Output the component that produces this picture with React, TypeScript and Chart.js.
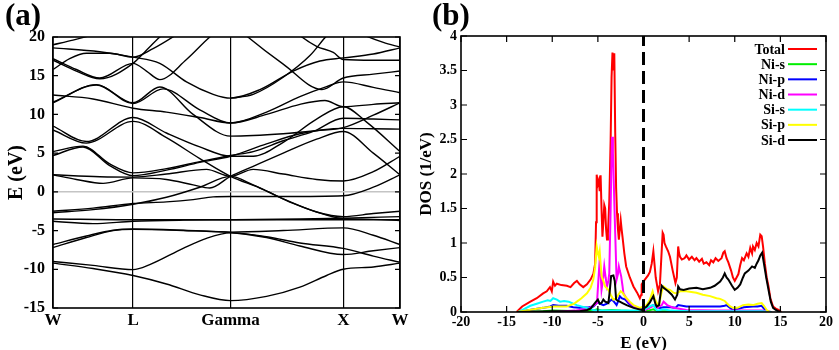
import React, { useEffect, useRef } from "react";
import { Chart, registerables } from "chart.js";

Chart.register(...registerables);

const SERIF = "'Liberation Serif', 'DejaVu Serif', serif";

// ---------- Panel (a): band structure ----------
const kTicks = [0, 240, 532, 870, 1040];
const kLabels = ["W", "L", "Gamma", "X", "W"];

const band01 = [[0,-9.2],[120,-9.9],[240,-10.8],[340,-11.9],[440,-13.3],[532,-14.05],[640,-13.5],[740,-12.3],[820,-10.8],[870,-10.0],[960,-9.7],[1040,-9.2]];
const band02 = [[0,-9.0],[120,-9.5],[240,-10.05],[290,-9.4],[390,-7.3],[460,-6.0],[532,-5.3],[640,-5.8],[740,-6.6],[870,-7.3],[960,-8.3],[1040,-9.1]];
const band03 = [[0,-7.2],[100,-5.9],[180,-5.0],[240,-4.85],[390,-5.0],[532,-5.25],[640,-5.9],[740,-7.0],[870,-8.1],[960,-7.6],[1040,-7.2]];
const band04 = [[0,-6.8],[100,-5.7],[180,-4.95],[240,-4.8],[390,-4.95],[532,-5.2],[690,-5.0],[870,-4.65],[960,-5.6],[1040,-6.8]];
const band05 = [[0,-3.5],[240,-3.6],[532,-3.6],[870,-3.6],[1040,-3.6]];
const band06 = [[0,-3.8],[120,-4.1],[240,-3.8],[390,-3.65],[532,-3.6],[740,-3.5],[870,-3.4],[1040,-3.2]];
const band07 = [[0,-2.5],[120,-2.1],[240,-1.5],[340,-1.3],[420,-1.0],[480,-0.65],[532,-0.6],[690,-0.6],[870,-0.5],[960,0.6],[1040,2.2]];
const band08 = [[0,-2.7],[120,-2.3],[240,-1.6],[340,-0.7],[440,0.6],[532,2.0],[600,0.9],[690,-0.9],[790,-2.6],[870,-3.2],[960,-2.8],[1040,-2.5]];
const band09 = [[0,8.0],[100,6.3],[240,9.1],[340,7.0],[440,4.3],[532,2.0],[620,0.5],[720,-1.5],[820,-3.0],[870,-3.45],[960,-3.55],[1040,-3.7]];
const band10 = [[0,2.2],[70,1.6],[150,1.1],[240,1.8],[340,1.6],[420,0.9],[470,0.5],[532,2.0],[600,3.3],[690,5.0],[790,6.8],[870,7.8],[960,5.0],[1040,2.2]];
const band11 = [[0,2.2],[140,1.95],[240,1.9],[340,2.3],[460,2.9],[532,2.0],[600,2.9],[690,2.3],[790,1.6],[870,1.4],[960,2.6],[1040,4.6]];
const band12 = [[0,5.2],[90,5.9],[170,3.6],[240,2.45],[340,3.0],[440,3.9],[532,4.7],[600,5.2],[690,6.6],[780,7.8],[870,9.5],[960,9.4],[1040,9.3]];
const band13 = [[0,4.7],[90,5.8],[170,3.4],[240,2.1],[340,2.8],[440,3.8],[532,4.6],[640,6.2],[740,7.5],[870,8.2],[960,8.15],[1040,8.1]];
const band14 = [[0,8.5],[100,6.5],[240,9.6],[340,7.6],[440,5.8],[532,4.6],[600,4.6],[690,6.4],[790,9.4],[870,11.0],[940,9.0],[1040,5.2]];
const band15 = [[0,11.5],[130,13.85],[240,11.5],[320,13.55],[420,10.0],[532,7.2],[690,7.5],[790,7.9],[870,8.3],[960,9.9],[1040,11.5]];
const band16 = [[0,11.6],[130,13.8],[240,11.4],[330,13.3],[440,10.6],[532,8.9],[640,10.0],[740,11.3],[815,11.8],[870,11.0],[960,11.3],[1040,11.5]];
const band17 = [[0,12.5],[120,12.0],[240,10.8],[340,10.3],[440,9.6],[532,8.9],[640,10.3],[740,12.3],[820,13.6],[870,14.2],[960,13.5],[1040,12.8]];
const band18 = [[0,18.6],[140,18.1],[240,17.4],[320,16.6],[400,14.2],[480,12.6],[532,12.1],[620,13.2],[720,15.6],[800,16.9],[870,17.3],[960,17.8],[1040,18.6]];
const band19 = [[0,17.2],[70,15.8],[140,14.7],[240,16.6],[280,15.6],[320,14.5],[400,17.1],[470,20.0],[532,22.0],[584,20.0],[690,16.5],[806,13.2],[870,14.7],[960,15.2],[1040,15.6]];
const band20 = [[0,15.8],[50,17.2],[100,17.9],[170,17.9],[240,17.4],[300,18.5],[370,20.3],[400,21.2]];
const band21 = [[0,17.0],[70,15.6],[140,14.6],[240,16.6],[280,18.3],[320,20.0],[360,21.5]];
const band22 = [[0,19.0],[60,19.6],[120,20.3],[170,21.0]];
const band23 = [[532,12.1],[600,12.6],[690,14.8],[770,17.6],[815,19.9],[850,21.5]];
const band24 = [[720,21.0],[740,20.2],[790,18.8],[840,18.0],[870,17.1],[960,17.0],[1040,17.0]];
const band25 = [[880,21.5],[930,20.3],[990,19.3],[1040,18.7]];

const bands = [band01, band02, band03, band04, band05, band06, band07, band08, band09, band10, band11, band12, band13,
  band14, band15, band16, band17, band18, band19, band20, band21, band22, band23, band24, band25];

// ---------- Panel (b): density of states ----------
const dosLabels = ["Total", "Ni-s", "Ni-p", "Ni-d", "Si-s", "Si-p", "Si-d"];
const dosColors = ["#ff0000", "#00ee00", "#0000ff", "#ff00ff", "#00ffff", "#ffff00", "#000000"];

const dosTotal = [[-13.9,0],[-13.3,0.08],[-12.4,0.15],[-11.7,0.2],[-11.0,0.27],[-10.6,0.3],[-10.25,0.36],[-10.05,0.3],[-9.9,0.44],[-9.7,0.38],[-9.5,0.41],[-9.0,0.39],[-8.4,0.38],[-8.0,0.36],[-7.6,0.42],[-7.3,0.45],[-7.0,0.4],[-6.6,0.36],[-6.2,0.4],[-5.8,0.47],[-5.5,0.55],[-5.3,0.7],[-5.2,1.3],[-5.13,1.99],[-5.0,1.85],[-4.9,1.9],[-4.8,1.75],[-4.7,1.98],[-4.6,1.5],[-4.5,1.09],[-4.4,1.3],[-4.3,1.55],[-4.2,1.5],[-4.1,1.2],[-4.0,1.05],[-3.9,1.14],[-3.75,1.6],[-3.6,2.5],[-3.5,3.4],[-3.4,3.76],[-3.3,3.5],[-3.2,3.75],[-3.1,2.6],[-3.0,1.8],[-2.9,1.43],[-2.8,1.2],[-2.7,1.05],[-2.6,1.2],[-2.5,1.33],[-2.4,1.2],[-2.3,1.09],[-2.1,0.85],[-1.9,0.66],[-1.5,0.5],[-1.1,0.37],[-0.7,0.28],[-0.4,0.2],[-0.25,0.25],[-0.2,0.4],[0.15,0.47],[0.5,0.53],[0.7,0.58],[0.9,0.7],[1.08,0.88],[1.2,0.7],[1.34,0.5],[1.6,0.3],[1.8,0.4],[2.0,0.9],[2.1,1.15],[2.2,1.12],[2.3,1.0],[2.45,0.95],[2.7,0.88],[2.9,0.8],[3.2,0.6],[3.5,0.42],[3.65,0.5],[3.8,0.95],[3.9,0.85],[4.0,0.8],[4.2,0.76],[4.5,0.78],[4.7,0.82],[5.0,0.76],[5.3,0.8],[5.6,0.75],[5.8,0.78],[6.1,0.73],[6.4,0.77],[6.6,0.7],[6.9,0.72],[7.2,0.68],[7.4,0.75],[7.65,0.72],[7.9,0.78],[8.2,0.74],[8.55,0.78],[8.75,0.86],[8.9,0.88],[9.1,0.78],[9.3,0.72],[9.6,0.6],[9.8,0.5],[10.0,0.45],[10.2,0.5],[10.4,0.55],[10.6,0.68],[10.8,0.78],[11.0,0.75],[11.3,0.85],[11.5,0.8],[11.7,0.93],[11.9,0.85],[12.0,0.95],[12.2,0.9],[12.4,1.0],[12.6,0.95],[12.8,1.12],[12.95,1.1],[13.1,0.95],[13.3,0.7],[13.5,0.5],[13.7,0.37],[13.9,0.2],[14.2,0.08],[14.5,0.05],[14.8,0.03],[15.1,0]];
const dosNiS = [[-13.8,0],[-11,0.01],[-9.9,0.02],[-7,0.01],[-5.5,0.02],[-5.1,0.04],[-4.5,0.02],[-3.5,0.03],[-2.5,0.02],[-1,0.01],[0.5,0.02],[1.08,0.04],[1.6,0.01],[5,0.01],[13,0.01],[14,0]];
const dosNiP = [[-13.8,0],[-12.5,0.03],[-11,0.06],[-10.2,0.08],[-9.9,0.1],[-9.3,0.09],[-8.4,0.09],[-7.7,0.07],[-7,0.06],[-6,0.07],[-5.5,0.08],[-5.2,0.12],[-5,0.15],[-4.8,0.12],[-4.4,0.1],[-4.0,0.12],[-3.5,0.18],[-3.3,0.16],[-2.95,0.1],[-2.8,0.15],[-2.6,0.23],[-2.4,0.2],[-2.0,0.18],[-1.6,0.12],[-1.1,0.08],[-0.5,0.05],[0,0.03],[0.5,0.06],[1.08,0.1],[1.4,0.07],[1.8,0.06],[2.2,0.07],[3.0,0.07],[3.5,0.06],[3.8,0.1],[4.7,0.08],[6,0.08],[7.3,0.08],[8.4,0.08],[8.9,0.09],[9.1,0.1],[9.5,0.06],[9.8,0.03],[10.5,0.05],[11,0.07],[12,0.08],[12.5,0.08],[12.95,0.09],[13.2,0.05],[13.5,0.01],[13.8,0]];
const dosNiD = [[-10,0],[-7.5,0.02],[-6.5,0.04],[-5.9,0.06],[-5.4,0.1],[-5.1,0.13],[-4.95,0.45],[-4.8,0.76],[-4.7,0.55],[-4.6,0.32],[-4.45,0.45],[-4.3,0.66],[-4.15,0.5],[-4.0,0.37],[-3.85,0.45],[-3.75,0.56],[-3.6,1.5],[-3.5,2.3],[-3.45,2.54],[-3.35,2.3],[-3.3,2.1],[-3.2,1.6],[-3.1,1.14],[-2.95,0.47],[-2.8,0.55],[-2.7,0.66],[-2.6,0.6],[-2.45,0.52],[-2.3,0.38],[-2.2,0.27],[-1.8,0.18],[-1.5,0.13],[-0.75,0.06],[0,0.02],[0.5,0.05],[1.08,0.09],[1.5,0.06],[2.0,0.1],[2.2,0.15],[2.6,0.1],[3.3,0.06],[4.7,0.03],[8,0.02],[13,0.02],[14,0]];
const dosSiS = [[-13.7,0],[-13.0,0.05],[-12.4,0.09],[-11.7,0.12],[-11,0.15],[-10.5,0.17],[-10.2,0.16],[-9.9,0.2],[-9.5,0.18],[-9.15,0.15],[-8.7,0.16],[-8.2,0.15],[-7.7,0.12],[-7.3,0.1],[-6.8,0.08],[-6.2,0.06],[-5.5,0.03],[-5,0.02],[-3.5,0.02],[-2,0.02],[-0.5,0.02],[0,0.03],[0.35,0.06],[0.8,0.09],[1.08,0.1],[1.3,0.05],[1.5,0.02],[2.2,0.04],[3,0.02],[5,0.01],[13,0.01],[14,0]];
const dosSiP = [[-13.9,0],[-12.5,0.03],[-11,0.06],[-9.8,0.08],[-8.4,0.08],[-7.6,0.12],[-7.3,0.15],[-6.8,0.2],[-6.2,0.27],[-5.8,0.35],[-5.5,0.47],[-5.3,0.65],[-5.13,0.95],[-5.0,0.85],[-4.9,0.8],[-4.8,0.88],[-4.7,0.7],[-4.6,0.52],[-4.4,0.45],[-4.2,0.37],[-3.85,0.32],[-3.6,0.25],[-3.3,0.18],[-3.0,0.2],[-2.76,0.25],[-2.5,0.3],[-2.3,0.28],[-2.0,0.22],[-1.85,0.2],[-1.5,0.15],[-1.1,0.1],[-0.4,0.06],[0,0.08],[0.35,0.1],[0.7,0.18],[1.0,0.3],[1.2,0.2],[1.45,0.13],[1.7,0.1],[2.0,0.3],[2.2,0.37],[2.6,0.33],[2.9,0.32],[3.3,0.28],[3.6,0.27],[4.0,0.3],[4.7,0.3],[5.8,0.28],[6.5,0.25],[7.3,0.23],[8.0,0.2],[8.4,0.19],[8.9,0.16],[9.1,0.13],[9.5,0.08],[9.8,0.06],[10.3,0.06],[10.9,0.1],[11.5,0.11],[12.0,0.1],[12.5,0.12],[12.95,0.13],[13.2,0.09],[13.5,0.03],[13.8,0]];
const dosSiD = [[-13.9,0],[-10,0.01],[-7,0.01],[-6.2,0.03],[-5.8,0.05],[-5.5,0.1],[-5.2,0.15],[-5.0,0.18],[-4.8,0.12],[-4.6,0.13],[-4.4,0.18],[-4.2,0.15],[-3.85,0.13],[-3.7,0.3],[-3.55,0.52],[-3.3,0.53],[-3.15,0.45],[-3.0,0.18],[-2.8,0.16],[-2.6,0.15],[-2.3,0.13],[-1.85,0.1],[-1.1,0.06],[-0.2,0.03],[0.35,0.08],[0.7,0.14],[1.08,0.23],[1.3,0.12],[1.45,0.08],[1.7,0.1],[1.9,0.3],[2.0,0.38],[2.2,0.35],[2.7,0.3],[3.1,0.25],[3.45,0.18],[3.7,0.25],[3.8,0.37],[4.0,0.33],[4.4,0.32],[5.0,0.34],[5.8,0.35],[6.5,0.33],[7.3,0.35],[7.8,0.38],[8.4,0.44],[8.7,0.5],[8.9,0.56],[9.1,0.5],[9.3,0.47],[9.7,0.38],[10.0,0.32],[10.3,0.35],[10.6,0.4],[10.9,0.5],[11.1,0.56],[11.5,0.6],[11.9,0.66],[12.2,0.64],[12.4,0.7],[12.6,0.75],[12.8,0.82],[13.0,0.86],[13.2,0.7],[13.45,0.5],[13.7,0.32],[13.95,0.15],[14.2,0.06],[14.5,0.03],[14.8,0.01],[15.0,0]];
const dosSeries = [dosTotal, dosNiS, dosNiP, dosNiD, dosSiS, dosSiP, dosSiD];
const fermiLine = [[0, 0], [0, 4]];

const toXY = (pts: number[][]) => pts.map(([x, y]) => ({ x, y }));
const font = (size: number) => ({ family: SERIF, size, weight: "bold" as const });

function framePlugin(label: string, tickLen: number, xTicksToo: boolean) {
  return {
    id: "frame",
    afterDatasetsDraw(chart: any) {
      const { ctx, chartArea: a, scales } = chart;
      ctx.save();
      ctx.strokeStyle = "#000";
      ctx.lineWidth = 1.2;
      ctx.beginPath();
      scales.y.ticks.forEach((t: any) => {
        const y = scales.y.getPixelForValue(t.value);
        ctx.moveTo(a.left, y); ctx.lineTo(a.left + tickLen, y);
        ctx.moveTo(a.right, y); ctx.lineTo(a.right - tickLen, y);
      });
      if (xTicksToo) {
        scales.x.ticks.forEach((t: any) => {
          const x = scales.x.getPixelForValue(t.value);
          ctx.moveTo(x, a.bottom); ctx.lineTo(x, a.bottom - tickLen);
          ctx.moveTo(x, a.top); ctx.lineTo(x, a.top + tickLen);
        });
      }
      ctx.stroke();
      ctx.lineWidth = 1.6;
      ctx.strokeRect(a.left, a.top, a.right - a.left, a.bottom - a.top);
      ctx.restore();
    },
    afterDraw(chart: any) {
      const { ctx } = chart;
      ctx.save();
      ctx.fillStyle = "#000";
      ctx.font = `bold 31px ${SERIF}`;
      ctx.textBaseline = "alphabetic";
      ctx.textAlign = "left";
      ctx.fillText(label, label === "(a)" ? 5 : 12, 25);
      ctx.restore();
    },
  };
}

const legendPlugin = {
  id: "dosLegend",
  afterDraw(chart: any) {
    const { ctx } = chart;
    ctx.save();
    ctx.font = `bold 14px ${SERIF}`;
    ctx.textAlign = "right";
    ctx.textBaseline = "middle";
    chart.data.datasets.forEach((ds: any, i: number) => {
      if (!dosLabels.includes(ds.label)) return;
      const y = 49 + i * 15.17;
      ctx.fillStyle = "#000";
      ctx.fillText(ds.label, 365, y + 1);
      ctx.strokeStyle = ds.borderColor;
      ctx.lineWidth = 2;
      ctx.beginPath();
      ctx.moveTo(368, y); ctx.lineTo(397, y);
      ctx.stroke();
    });
    ctx.restore();
  },
};

function BandChart() {
  const ref = useRef<HTMLCanvasElement>(null);
  useEffect(() => {
    const chart = new Chart(ref.current!, {
      type: "line",
      data: {
        datasets: bands.map((b) => ({
          data: toXY(b),
          borderColor: "#000",
          borderWidth: 1.4,
          pointRadius: 0,
          cubicInterpolationMode: "monotone" as const,
          fill: false,
        })),
      },
      options: {
        responsive: false,
        animation: false,
        events: [],
        layout: { padding: { top: 37, right: 20, left: 0, bottom: 0 } },
        plugins: { legend: { display: false }, tooltip: { enabled: false } },
        scales: {
          x: {
            type: "linear",
            min: 0,
            max: 1040,
            afterBuildTicks: (s: any) => { s.ticks = kTicks.map((v) => ({ value: v })); },
            afterFit: (s: any) => { s.height = 42; },
            ticks: {
              autoSkip: false, maxRotation: 0, padding: 2, color: "#000", font: font(17),
              callback: (_v: any, i: number) => kLabels[i],
            },
            grid: { color: "#000", lineWidth: 1.2, drawTicks: false },
            border: { display: false },
          },
          y: {
            type: "linear",
            min: -15,
            max: 20,
            afterFit: (s: any) => { s.width = 53; },
            ticks: { stepSize: 5, padding: 8, color: "#000", font: font(16), callback: (v: any) => String(v) },
            grid: {
              drawTicks: false,
              color: (c: any) => (c.tick && c.tick.value === 0 ? "#c4c4c4" : "rgba(0,0,0,0)"),
              lineWidth: 1.5,
            },
            border: { display: false },
            title: { display: true, text: "E (eV)", color: "#000", font: font(20), padding: { top: 5, bottom: 0 } },
          },
        },
      },
      plugins: [framePlugin("(a)", 5, false)],
    } as any);
    return () => chart.destroy();
  }, []);
  return <canvas ref={ref} width={420} height={350} style={{ position: "absolute", left: 0, top: 0, width: 420, height: 350 }} />;
}

function DosChart() {
  const ref = useRef<HTMLCanvasElement>(null);
  useEffect(() => {
    const datasets: any[] = dosSeries.map((s, i) => ({
      label: dosLabels[i],
      data: toXY(s),
      borderColor: dosColors[i],
      borderWidth: 2,
      pointRadius: 0,
      tension: 0,
      fill: false,
      order: dosSeries.length - i,
    }));
    datasets.push({
      label: "EF",
      data: toXY(fermiLine),
      borderColor: "#000",
      borderWidth: 3,
      borderDash: [13, 6],
      pointRadius: 0,
      fill: false,
      order: 0,
    });
    const chart = new Chart(ref.current!, {
      type: "line",
      data: { datasets },
      options: {
        responsive: false,
        animation: false,
        events: [],
        layout: { padding: { top: 36, right: 13, left: 0, bottom: 0 } },
        plugins: { legend: { display: false }, tooltip: { enabled: false } },
        scales: {
          x: {
            type: "linear",
            min: -20,
            max: 20,
            afterFit: (s: any) => { s.height = 48; },
            ticks: { stepSize: 5, padding: 2, color: "#000", font: font(14), maxRotation: 0, callback: (v: any) => String(v) },
            grid: { display: false, drawTicks: false },
            border: { display: false },
            title: { display: true, text: "E (eV)", color: "#000", font: font(17), padding: { top: 0, bottom: 6 } },
          },
          y: {
            type: "linear",
            min: 0,
            max: 4,
            afterFit: (s: any) => { s.width = 41; },
            ticks: { stepSize: 0.5, padding: 4, color: "#000", font: font(14), callback: (v: any) => String(v) },
            grid: { display: false, drawTicks: false },
            border: { display: false },
            title: { display: true, text: "DOS (1/eV)", color: "#000", font: font(17), padding: { top: -3.7, bottom: 0 } },
          },
        },
      },
      plugins: [framePlugin("(b)", 6, true), legendPlugin],
    } as any);
    return () => chart.destroy();
  }, []);
  return <canvas ref={ref} width={419} height={360} style={{ position: "absolute", left: 420, top: 0, width: 419, height: 360 }} />;
}

export default function App() {
  return (
    <div style={{ position: "fixed", left: 0, top: 0, width: 839, height: 350, background: "#fff", overflow: "hidden" }}>
      <BandChart />
      <DosChart />
    </div>
  );
}
